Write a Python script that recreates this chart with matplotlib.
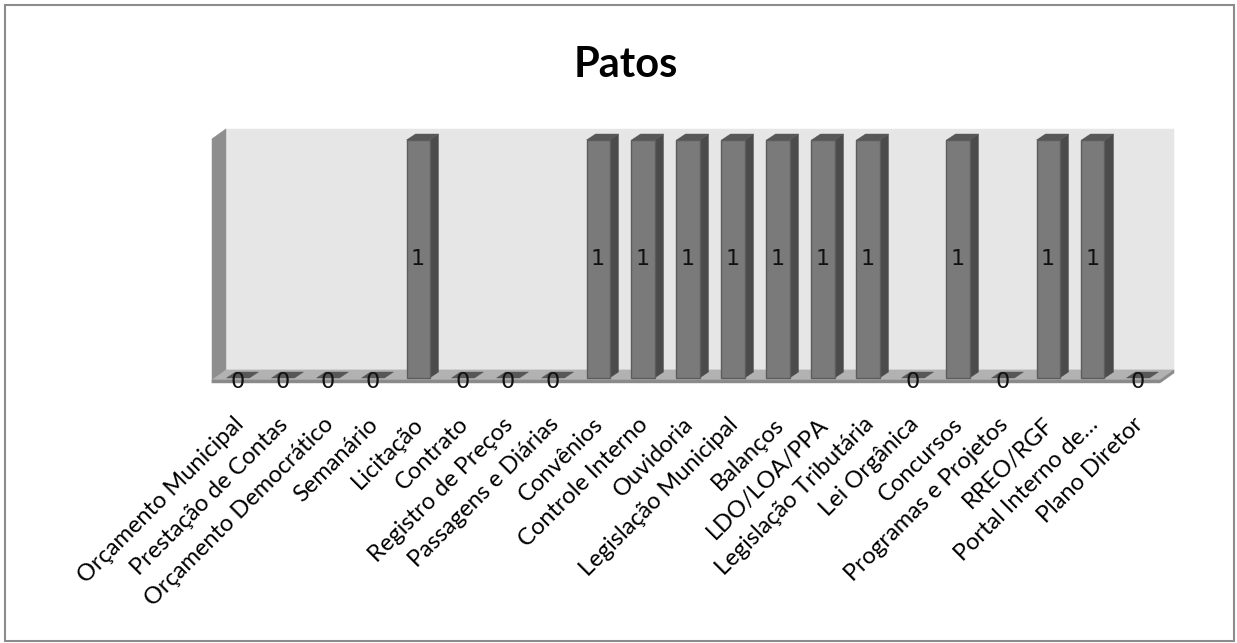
#!/usr/bin/env python3

import matplotlib
matplotlib.use("Agg")
import matplotlib.pyplot as plt
from matplotlib.patches import Polygon, Rectangle

# Itens avaliados no portal de transparência do município
categorias = [
    "Orçamento Municipal", "Prestação de Contas", "Orçamento Democrático",
    "Semanário", "Licitação", "Contrato", "Registro de Preços",
    "Passagens e Diárias", "Convênios", "Controle Interno", "Ouvidoria",
    "Legislação Municipal", "Balanços", "LDO/LOA/PPA", "Legislação Tributária",
    "Lei Orgânica", "Concursos", "Programas e Projetos", "RREO/RGF",
    "Portal Interno de…", "Plano Diretor",
]
valores = [0, 0, 0, 0, 1, 0, 0, 0, 1, 1, 1, 1, 1, 1, 1, 0, 1, 0, 1, 1, 0]
titulo = "Patos"

W_PX, H_PX = 1237, 643

# escala em pixels: centro da 1a barra, passo entre barras, base e altura de 1 unidade
X0_PX, PASSO_PX = 238, 45
BASE_PX, UNIDADE_PX = 378, 238

XMIN, XMAX = -0.7, 20.9
YMIN, YMAX = -0.2, 1.2

# cores do efeito 3D
COR_PAREDE = "#e6e6e6"
COR_LATERAL = "#8e8e8e"
COR_PISO = "#b2b2b2"
COR_PISO_BORDA = "#8a8a8a"
COR_FRENTE = "#7a7a7a"
COR_FRENTE_BORDA = "#5c5c5c"
COR_LADO = "#4b4b4b"
COR_TOPO = "#575757"

# profundidades em unidades de dados
MEIA_LARG = 11.5 / PASSO_PX
DX_BARRA, DY_BARRA = 9 / PASSO_PX, 6 / UNIDADE_PX
DX_PAREDE, DY_PAREDE = 14 / PASSO_PX, 10 / UNIDADE_PX


def poly(ax, pts, cor, borda=None, lw=0.0, z=1):
    ax.add_patch(Polygon(pts, closed=True, facecolor=cor,
                         edgecolor=borda if borda else cor,
                         linewidth=lw if borda else 0.3, zorder=z))


def desenhar():
    fig = plt.figure(figsize=(W_PX / 100, H_PX / 100), dpi=100)

    left = (X0_PX + XMIN * PASSO_PX) / W_PX
    width = (XMAX - XMIN) * PASSO_PX / W_PX
    bottom = (H_PX - (BASE_PX - YMIN * UNIDADE_PX)) / H_PX
    height = (YMAX - YMIN) * UNIDADE_PX / H_PX
    ax = fig.add_axes([left, bottom, width, height])
    ax.set_xlim(XMIN, XMAX)
    ax.set_ylim(YMIN, YMAX)
    ax.axis("off")

    n = len(categorias)
    topo = max(valores) + 0.005
    xe = -0.578          # borda frontal esquerda do piso
    xd = n - 1 + 0.49    # borda frontal direita do piso
    yp = -0.008          # altura da borda frontal do piso

    # parede do fundo
    poly(ax, [(xe + DX_PAREDE, yp + DY_PAREDE), (xd + DX_PAREDE, yp + DY_PAREDE),
              (xd + DX_PAREDE, topo + DY_PAREDE), (xe + DX_PAREDE, topo + DY_PAREDE)],
         COR_PAREDE, z=1)
    # parede lateral
    poly(ax, [(xe, yp - 0.013), (xe, topo), (xe + DX_PAREDE, topo + DY_PAREDE),
              (xe + DX_PAREDE, yp + DY_PAREDE)], COR_LATERAL, z=2)
    # piso
    poly(ax, [(xe, yp), (xd, yp), (xd + DX_PAREDE, yp + DY_PAREDE),
              (xe + DX_PAREDE, yp + DY_PAREDE)], COR_PISO, z=2)
    poly(ax, [(xe, yp - 0.013), (xd, yp - 0.013), (xd + DX_PAREDE, yp + DY_PAREDE - 0.013),
              (xd + DX_PAREDE, yp + DY_PAREDE), (xd, yp), (xe, yp)], COR_PISO_BORDA, z=2)

    for i, v in enumerate(valores):
        x0, x1 = i - MEIA_LARG, i + MEIA_LARG
        if v > 0:
            # frente, lateral e topo da barra
            poly(ax, [(x1, 0), (x1 + DX_BARRA, DY_BARRA), (x1 + DX_BARRA, v + DY_BARRA), (x1, v)],
                 COR_LADO, z=3)
            poly(ax, [(x0, v), (x1, v), (x1 + DX_BARRA, v + DY_BARRA), (x0 + DX_BARRA, v + DY_BARRA)],
                 COR_TOPO, z=3)
            ax.add_patch(Rectangle((x0, 0), x1 - x0, v, facecolor=COR_FRENTE,
                                   edgecolor=COR_FRENTE_BORDA, linewidth=1.0, zorder=4))
            ax.text(i, v / 2, f"{v}", ha="center", va="center", fontsize=16,
                    family="DejaVu Sans", color="#111111", zorder=5)
        else:
            poly(ax, [(x0, 0), (x1, 0), (x1 + DX_BARRA, DY_BARRA), (x0 + DX_BARRA, DY_BARRA)],
                 COR_TOPO, z=3)
            ax.text(i, -0.018, f"{v}", ha="center", va="center", fontsize=16,
                    family="DejaVu Sans", color="#111111", zorder=5)

        # rótulo da categoria, inclinado a 45 graus
        ax.text(i - 0.12, -0.15, categorias[i], rotation=45, rotation_mode="anchor",
                ha="right", va="top", fontsize=17, family="Lato", color="#000000",
                clip_on=False)

    fig.text(625.5 / W_PX, 1 - 65 / H_PX, titulo, ha="center", va="center",
             fontsize=30, fontweight="bold", family="Lato")

    # moldura do gráfico
    fig.patches.append(Rectangle((5 / W_PX, 2 / H_PX), (W_PX - 8) / W_PX, (H_PX - 7) / H_PX,
                                 transform=fig.transFigure, fill=False,
                                 edgecolor="#8c8c8c", linewidth=1.5))

    fig.savefig("out.png", dpi=100)


if __name__ == "__main__":
    desenhar()
